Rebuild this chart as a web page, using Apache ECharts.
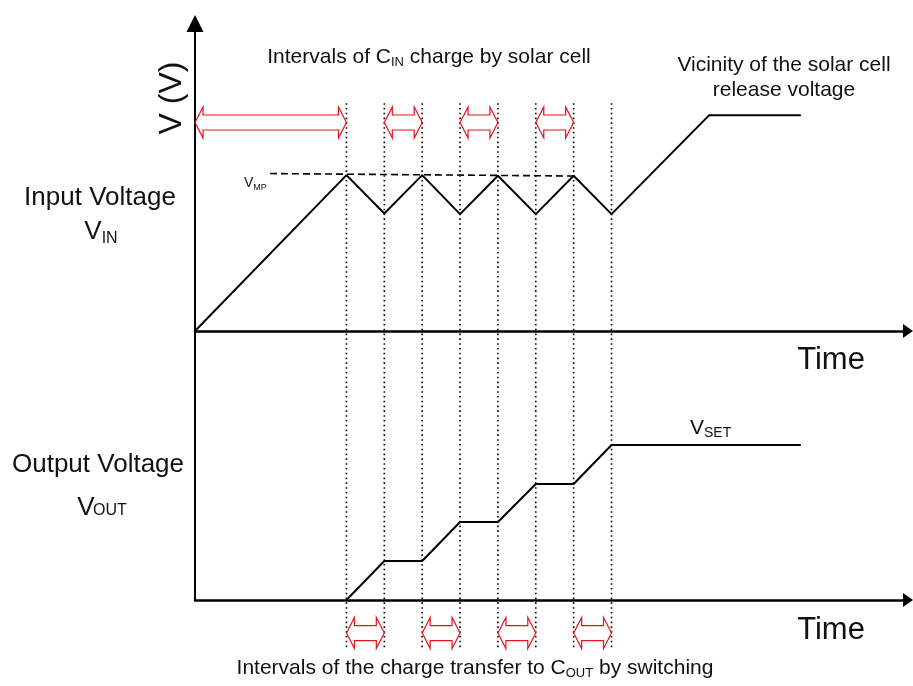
<!DOCTYPE html>
<html>
<head>
<meta charset="utf-8">
<script src="https://cdn.jsdelivr.net/npm/echarts@6/dist/echarts.min.js"></script>
<style>
  html, body { margin: 0; padding: 0; background: #fff; }
  #chart { width: 913px; height: 686px; }
</style>
</head>
<body>
<div id="chart"></div>
<script>
// time in switching periods, voltage in arbitrary units
const tIn = [0, 4, 5, 6, 7, 8, 9, 10, 11, 13.58, 16.0]
const vIn = [0, 5.07, 3.82, 5.07, 3.8, 5.05, 3.8, 5.05, 3.8, 7.02, 7.02]
const tOut = [4, 5, 6, 7, 8, 9, 10, 11, 16.0]
const vOut = [0, 1.45, 1.45, 2.9, 2.9, 4.31, 4.31, 5.76, 5.76]
// V_MP reference (dashed)
const tMp = [1.98, 10]
const vMp = [5.12, 5.04]
// switching instants (dotted guides)
const switchTimes = [4, 5, 6, 7, 8, 9, 10, 11]
// C_IN charge intervals / charge transfer intervals
const inIntervals = [[0, 4], [5, 6], [7, 8], [9, 10]]
const outIntervals = [[4, 5], [6, 7], [8, 9], [10, 11]]

const FONT = "'Liberation Sans', Arial, sans-serif"
const RED = '#e4141c'

let chart = echarts.init(document.getElementById('chart'))

function axisX(grid) {
  return {
    gridIndex: grid,
    type: 'value',
    min: 0,
    max: 18.83,
    axisLine: {
      show: true,
      symbol: ['none', 'triangle'],
      symbolSize: [14, 10],
      lineStyle: { color: '#000', width: 2.5 }
    },
    axisTick: { show: false },
    axisLabel: { show: false },
    splitLine: { show: false }
  }
}

function axisY(grid, arrow) {
  return {
    gridIndex: grid,
    type: 'value',
    min: 0,
    max: 10,
    axisLine: {
      show: true,
      onZero: false,
      symbol: ['none', arrow ? 'triangle' : 'none'],
      symbolSize: [17, 17],
      lineStyle: { color: '#000', width: 2 }
    },
    axisTick: { show: false },
    axisLabel: { show: false },
    splitLine: { show: false }
  }
}

// hollow double headed arrow between two times
function arrowItem(params, api) {
  let y = api.value(2)
  let p0 = api.coord([api.value(0), y])
  let p1 = api.coord([api.value(1), y])
  let h = 8, b = 15.5, s = 7.5
  let cy = p0[1]
  return {
    type: 'polygon',
    shape: {
      points: [
        [p0[0], cy], [p0[0] + h, cy - b], [p0[0] + h, cy - s],
        [p1[0] - h, cy - s], [p1[0] - h, cy - b], [p1[0], cy],
        [p1[0] - h, cy + b], [p1[0] - h, cy + s],
        [p0[0] + h, cy + s], [p0[0] + h, cy + b]
      ]
    },
    style: { fill: 'none', stroke: RED, lineWidth: 1.2 }
  }
}

function txt(x, y, text, size, extra, align) {
  return Object.assign({
    type: 'text',
    x: x,
    y: y,
    style: {
      text: text,
      font: size + 'px ' + FONT,
      fill: '#111',
      align: align || 'center',
      verticalAlign: 'middle',
      lineHeight: Math.round(size * 1.2)
    }
  }, extra || {})
}

// main letter with subscript
function sub(x, y, main, small, size, subSize, align) {
  return {
    type: 'text',
    x: x,
    y: y,
    style: {
      text: '{m|' + main + '}{s|' + small + '}',
      align: align || 'center',
      verticalAlign: 'middle',
      rich: {
        m: { fontFamily: FONT, fontSize: size, lineHeight: size + 4, fill: '#111' },
        s: { fontFamily: FONT, fontSize: subSize, lineHeight: subSize, verticalAlign: 'bottom', fill: '#111' }
      }
    }
  }
}

chart.setOption({
  animation: false,
  grid: [
    { left: 195, right: 5, top: 23.5, height: 307.5 },
    { left: 195, right: 5, top: 331, height: 269 }
  ],
  xAxis: [axisX(0), axisX(1)],
  yAxis: [axisY(0, true), axisY(1, false)],
  graphic: [
    {
      type: 'text', x: 429, y: 57,
      style: {
        text: '{m|Intervals of C}{s|IN}{m| charge by solar cell}',
        align: 'center', verticalAlign: 'middle',
        rich: {
          m: { fontFamily: FONT, fontSize: 21, lineHeight: 24, fill: '#111' },
          s: { fontFamily: FONT, fontSize: 13, lineHeight: 13, verticalAlign: 'bottom', fill: '#111' }
        }
      }
    },
    txt(784, 77.5, 'Vicinity of the solar cell\nrelease voltage', 21, { style: {
      text: 'Vicinity of the solar cell\nrelease voltage', font: '21px ' + FONT, fill: '#111',
      align: 'center', verticalAlign: 'middle', lineHeight: 25 } }),
    txt(172, 98, 'V (V)', 32, { rotation: Math.PI / 2 }),
    txt(100, 198, 'Input Voltage', 26),
    sub(101, 232, 'V', 'IN', 26, 16),
    txt(98, 465, 'Output Voltage', 26),
    txt(86, 508, 'V', 26),
    txt(93, 511, 'OUT', 16, null, 'left'),
    sub(244, 183, 'V', 'MP', 14, 9, 'left'),
    sub(690, 428, 'V', 'SET', 21, 14, 'left'),
    txt(831, 360, 'Time', 31),
    txt(831, 630, 'Time', 31),
    {
      type: 'text', x: 475, y: 668,
      style: {
        text: '{m|Intervals of the charge transfer to C}{s|OUT}{m| by switching}',
        align: 'center', verticalAlign: 'middle',
        rich: {
          m: { fontFamily: FONT, fontSize: 21, lineHeight: 24, fill: '#111' },
          s: { fontFamily: FONT, fontSize: 13, lineHeight: 13, verticalAlign: 'bottom', fill: '#111' }
        }
      }
    }
  ],
  series: [
    {
      name: 'guides',
      type: 'custom',
      xAxisIndex: 0,
      yAxisIndex: 0,
      clip: false,
      z: 1,
      data: switchTimes.map(t => [t, 7.41, -10.37]),
      encode: { x: 0, y: [1, 2] },
      renderItem: function (params, api) {
        let a = api.coord([api.value(0), api.value(1)])
        let b = api.coord([api.value(0), api.value(2)])
        return {
          type: 'line',
          shape: { x1: a[0], y1: a[1], x2: b[0], y2: b[1] },
          style: { stroke: '#000', lineWidth: 1.6, lineDash: [1.6, 3.2] }
        }
      }
    },
    {
      name: 'VIN',
      type: 'line',
      xAxisIndex: 0,
      yAxisIndex: 0,
      symbol: 'none',
      z: 3,
      data: tIn.map((t, i) => [t, vIn[i]]),
      lineStyle: { color: '#000', width: 2 }
    },
    {
      name: 'VMP',
      type: 'line',
      xAxisIndex: 0,
      yAxisIndex: 0,
      symbol: 'none',
      z: 3,
      data: tMp.map((t, i) => [t, vMp[i]]),
      lineStyle: { color: '#000', width: 1.6, type: [7, 4] }
    },
    {
      name: 'VOUT',
      type: 'line',
      xAxisIndex: 1,
      yAxisIndex: 1,
      symbol: 'none',
      z: 3,
      data: tOut.map((t, i) => [t, vOut[i]]),
      lineStyle: { color: '#000', width: 2 }
    },
    {
      name: 'CIN charge',
      type: 'custom',
      xAxisIndex: 0,
      yAxisIndex: 0,
      clip: false,
      z: 4,
      data: inIntervals.map(d => [d[0], d[1], 6.78]),
      encode: { x: [0, 1], y: 2 },
      renderItem: arrowItem
    },
    {
      name: 'COUT transfer',
      type: 'custom',
      xAxisIndex: 1,
      yAxisIndex: 1,
      clip: false,
      z: 4,
      data: outIntervals.map(d => [d[0], d[1], -1.23]),
      encode: { x: [0, 1], y: 2 },
      renderItem: arrowItem
    }
  ]
})
</script>
</body>
</html>
